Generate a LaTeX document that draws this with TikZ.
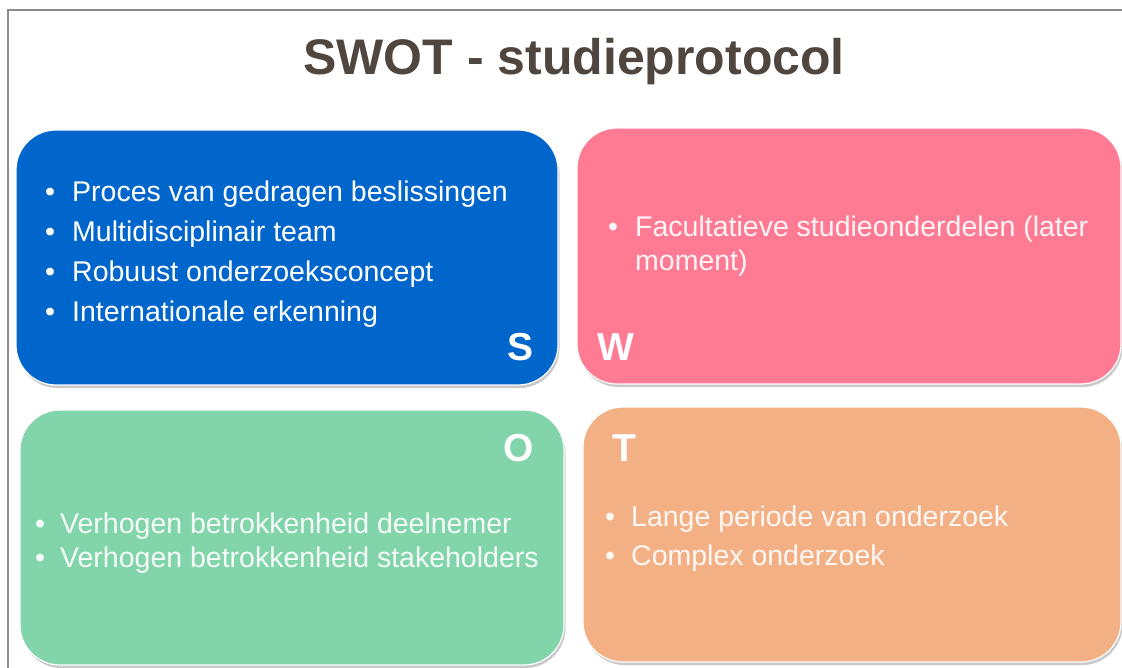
\documentclass[tikz,border=0pt]{standalone}
\usepackage{fontspec}
\setmainfont{Liberation Sans}
\usetikzlibrary{shadows}
\definecolor{titlegray}{RGB}{79,70,64}
\definecolor{sblue}{RGB}{0,102,204}
\definecolor{wpink}{RGB}{255,122,147}
\definecolor{ogreen}{RGB}{130,212,170}
\definecolor{torange}{RGB}{243,176,132}
\definecolor{framegray}{RGB}{140,140,140}
\tikzset{
  quad/.style={draw=white, line width=1.2pt, rounded corners=40pt,
    drop shadow={shadow xshift=1.5pt, shadow yshift=-3pt, opacity=0.35, fill=black!60}},
  item/.style={anchor=base west, inner sep=0pt, text=white, font=\fontsize{28.5}{34}\selectfont},
  dot/.style={anchor=base, inner sep=0pt, text=white, font=\fontsize{28.5}{34}\selectfont},
  soft/.style={text opacity=0.92},
  letter/.style={inner sep=0pt, text=white, font=\fontsize{39}{44}\bfseries\selectfont},
}
\begin{document}
\begin{tikzpicture}[x=1pt, y=-1pt]
\useasboundingbox (0,0) rectangle (1122,668);
\fill[white] (0,0) rectangle (1122,668);

% slide frame
\draw[framegray, line width=2pt] (8,670) -- (8,10) -- (1124,10);

% title
\node[anchor=base, inner sep=0pt, text=titlegray, font=\fontsize{50}{56}\bfseries\selectfont]
  (title) at (574,75) {SWOT - studieprotocol};

% quadrants
\path[quad, fill=sblue]   (16,130)  rectangle (558,385);
\path[quad, fill=wpink]   (577,128) rectangle (1121,384);
\path[quad, fill=ogreen]  (20,410)  rectangle (564,665);
\path[quad, fill=torange] (583,407) rectangle (1121,662);

% strengths
\node[dot]  (s1b) at (50,202) {•};
\node[item] (s1)  at (72,202) {Proces van gedragen beslissingen};
\node[dot]  (s2b) at (50,242) {•};
\node[item] (s2)  at (72,242) {Multidisciplinair team};
\node[dot]  (s3b) at (50,282) {•};
\node[item] (s3)  at (72,282) {Robuust onderzoeksconcept};
\node[dot]  (s4b) at (50,322) {•};
\node[item] (s4)  at (72,322) {Internationale erkenning};
\node[letter, anchor=base east] (S) at (534,360) {S};

% weaknesses
\node[dot, soft]  (w1b) at (613,237) {•};
\node[item, soft] (w1)  at (635,237) {Facultatieve studieonderdelen (later};
\node[item, soft] (w2)  at (635,271) {moment)};
\node[letter, anchor=base west] (W) at (597,360) {W};

% opportunities
\node[letter, anchor=base east] (O) at (534,461) {O};
\node[dot, soft]  (o1b) at (40,533) {•};
\node[item, soft] (o1)  at (60,533) {Verhogen betrokkenheid deelnemer};
\node[dot, soft]  (o2b) at (40,567) {•};
\node[item, soft] (o2)  at (60,567) {Verhogen betrokkenheid stakeholders};

% threats
\node[letter, anchor=base west] (T) at (612,461) {T};
\node[dot, soft]  (t1b) at (610,526) {•};
\node[item, soft] (t1)  at (631,526) {Lange periode van onderzoek};
\node[dot, soft]  (t2b) at (610,565) {•};
\node[item, soft] (t2)  at (631,565) {Complex onderzoek};
\end{tikzpicture}
\end{document}
